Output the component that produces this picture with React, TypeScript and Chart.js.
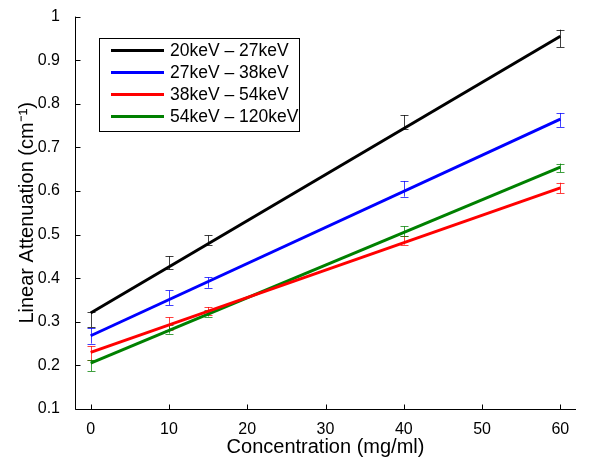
import React, { useEffect, useRef } from "react";
import { Chart, registerables } from "chart.js";

Chart.register(...registerables);

const concentrations = [0, 10, 15, 40, 60];
const seriesLabels = ["20keV – 27keV", "27keV – 38keV", "38keV – 54keV", "54keV – 120keV"];
const seriesColors = ["#000000", "#0000ff", "#ff0000", "#008000"];

// measured means and error half-widths
const mean20_27 = [0.305, 0.435, 0.487, 0.758, 0.95];
const err20_27 = [0.017, 0.015, 0.011, 0.016, 0.02];
const mean27_38 = [0.268, 0.355, 0.39, 0.605, 0.763];
const err27_38 = [0.018, 0.017, 0.012, 0.018, 0.016];
const mean38_54 = [0.228, 0.296, 0.325, 0.487, 0.607];
const err38_54 = [0.016, 0.014, 0.009, 0.01, 0.012];
const mean54_120 = [0.2, 0.283, 0.32, 0.508, 0.653];
const err54_120 = [0.013, 0.01, 0.008, 0.011, 0.01];

// linear fit lines: value at start and end concentration
const fitX = [0, 60];
const fit20_27 = [0.32, 0.955];
const fit27_38 = [0.268, 0.765];
const fit38_54 = [0.23, 0.607];
const fit54_120 = [0.205, 0.655];

const xTicks = [0, 10, 20, 30, 40, 50, 60];
const yTicks = [0.1, 0.2, 0.3, 0.4, 0.5, 0.6, 0.7, 0.8, 0.9, 1];

const means = [mean20_27, mean27_38, mean38_54, mean54_120];
const errs = [err20_27, err27_38, err38_54, err54_120];
const fits = [fit20_27, fit27_38, fit38_54, fit54_120];

const FONT = "'Liberation Sans', Arial, Helvetica, sans-serif";

const errorBarPlugin = {
  id: "errorBars",
  beforeDatasetsDraw(chart: any) {
    const ctx = chart.ctx;
    const xs = chart.scales.x;
    const ys = chart.scales.y;
    ctx.save();
    ctx.lineWidth = 1;
    means.forEach((m, si) => {
      ctx.strokeStyle = seriesColors[si];
      ctx.globalAlpha = 0.75;
      m.forEach((v, i) => {
        const px = Math.round(xs.getPixelForValue(concentrations[i])) + 0.5;
        const top = ys.getPixelForValue(v + errs[si][i]);
        const bot = ys.getPixelForValue(v - errs[si][i]);
        ctx.beginPath();
        ctx.moveTo(px, top);
        ctx.lineTo(px, bot);
        ctx.moveTo(px - 4, Math.round(top) + 0.5);
        ctx.lineTo(px + 4, Math.round(top) + 0.5);
        ctx.moveTo(px - 4, Math.round(bot) + 0.5);
        ctx.lineTo(px + 4, Math.round(bot) + 0.5);
        ctx.stroke();
      });
    });
    ctx.restore();
  },
};

const axesPlugin = {
  id: "matlabAxes",
  afterDraw(chart: any) {
    const ctx = chart.ctx;
    const { left, right, top, bottom } = chart.chartArea;
    const xs = chart.scales.x;
    const ys = chart.scales.y;
    ctx.save();
    ctx.strokeStyle = "#000";
    ctx.lineWidth = 1;
    ctx.beginPath();
    const L = Math.round(left) + 0.5;
    const B = Math.round(bottom) + 0.5;
    ctx.moveTo(L, top);
    ctx.lineTo(L, B);
    ctx.lineTo(right, B);
    xTicks.forEach((t) => {
      const px = Math.round(xs.getPixelForValue(t)) + 0.5;
      ctx.moveTo(px, B);
      ctx.lineTo(px, B - 5);
    });
    yTicks.forEach((t) => {
      const py = Math.round(ys.getPixelForValue(t)) + 0.5;
      ctx.moveTo(L, py);
      ctx.lineTo(L + 5, py);
    });
    ctx.stroke();

    // legend
    const lx = left + 24;
    const ly = top + 21;
    const lw = 200;
    const lh = 93;
    ctx.fillStyle = "#fff";
    ctx.fillRect(lx, ly, lw, lh);
    ctx.strokeStyle = "#000";
    ctx.lineWidth = 1;
    ctx.strokeRect(Math.round(lx) + 0.5, Math.round(ly) + 0.5, lw, lh);
    ctx.font = `17.5px ${FONT}`;
    ctx.textBaseline = "middle";
    ctx.textAlign = "left";
    seriesLabels.forEach((lab, i) => {
      const cy = ly + 13 + i * 22;
      ctx.strokeStyle = seriesColors[i];
      ctx.lineWidth = 3;
      ctx.beginPath();
      ctx.moveTo(lx + 12, cy);
      ctx.lineTo(lx + 65, cy);
      ctx.stroke();
      ctx.fillStyle = "#000";
      ctx.fillText(lab, lx + 71, cy + 1);
    });
    ctx.restore();
  },
};

export default function App() {
  const canvasRef = useRef<HTMLCanvasElement | null>(null);

  useEffect(() => {
    document.body.style.margin = "0";
    const canvas = canvasRef.current;
    if (!canvas) return;
    const datasets = fits.map((f, si) => ({
      label: seriesLabels[si],
      data: fitX.map((x, i) => ({ x, y: f[i] })),
      showLine: true,
      borderColor: seriesColors[si],
      backgroundColor: seriesColors[si],
      borderWidth: 3,
      pointRadius: 0,
      fill: false,
    }));
    const chart = new Chart(canvas, {
      type: "scatter",
      data: { datasets },
      plugins: [errorBarPlugin, axesPlugin],
      options: {
        animation: false,
        responsive: true,
        maintainAspectRatio: false,
        layout: { padding: { top: 10, right: 14, left: 0, bottom: 0 } },
        plugins: { legend: { display: false }, tooltip: { enabled: false } },
        scales: {
          x: {
            type: "linear",
            min: -2,
            max: 62,
            grid: { display: false },
            border: { display: false },
            afterBuildTicks: (s: any) => {
              s.ticks = xTicks.map((v) => ({ value: v }));
            },
            afterFit: (s: any) => {
              s.height = 50;
            },
            ticks: {
              padding: 3,
              color: "#000",
              font: { family: FONT, size: 16 },
              callback: (v: any) => String(v),
            },
            title: {
              display: true,
              text: "Concentration (mg/ml)",
              color: "#000",
              font: { family: FONT, size: 20 },
              padding: { top: 0, bottom: 0 },
            },
          },
          y: {
            type: "linear",
            min: 0.1,
            max: 1,
            grid: { display: false },
            border: { display: false },
            afterBuildTicks: (s: any) => {
              s.ticks = yTicks.map((v) => ({ value: v }));
            },
            afterFit: (s: any) => {
              s.width = 75;
            },
            ticks: {
              padding: 7,
              color: "#000",
              font: { family: FONT, size: 16 },
              callback: (v: any) => String(Math.round(Number(v) * 10) / 10),
            },
            title: {
              display: true,
              text: "Linear Attenuation (cm⁻¹)",
              color: "#000",
              font: { family: FONT, size: 20 },
              padding: { top: 15, bottom: 0 },
            },
          },
        },
      },
    });
    return () => chart.destroy();
  }, []);

  return (
    <div style={{ position: "absolute", left: 0, top: 0, width: 590, height: 459 }}>
      <canvas ref={canvasRef} />
    </div>
  );
}
